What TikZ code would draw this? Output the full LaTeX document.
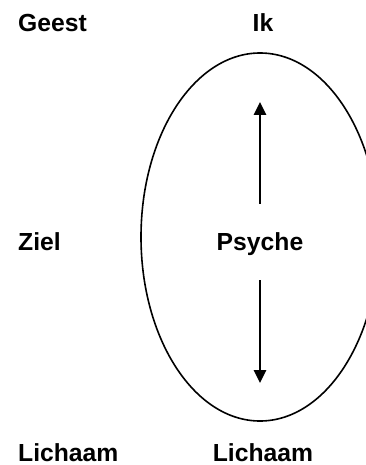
\documentclass[tikz,border=0pt]{standalone}
\usepackage{fontspec}
\setmainfont{Liberation Sans}
\usetikzlibrary{arrows.meta}

\begin{document}
\begin{tikzpicture}[x=1pt,y=-1pt,
  lbl/.style={font=\fontsize{24.7}{28}\selectfont\bfseries,inner sep=0pt},
  pijl/.style={line width=2.8pt,-{Triangle[length=13pt,width=12pt]}}]
\useasboundingbox (0,0) rectangle (366,465);
\clip (0,0) rectangle (366,465);
%\scriptsize
\draw[line width=1.6pt] (260,237) ellipse [x radius=119,y radius=184];
\node[lbl,anchor=base west] (geest) at (18,32) {Geest};
\node[lbl,anchor=base] (ik) at (263,32) {Ik};
\node[lbl,anchor=base west] (ziel) at (18,250) {Ziel};
\node[lbl,anchor=base] (psyche) at (260,250) {Psyche};
\node[lbl,anchor=base west] (lichaam1) at (18,461) {Lichaam};
\node[lbl,anchor=base] (lichaam2) at (263,461) {Lichaam};
\coordinate (boven) at (260,102);
\coordinate (onder) at (260,383);
\draw[pijl] ([yshift=28pt]psyche.north) -- (boven);
\draw[pijl] ([yshift=-25pt]psyche.south) -- (onder);
\end{tikzpicture}
\end{document}
